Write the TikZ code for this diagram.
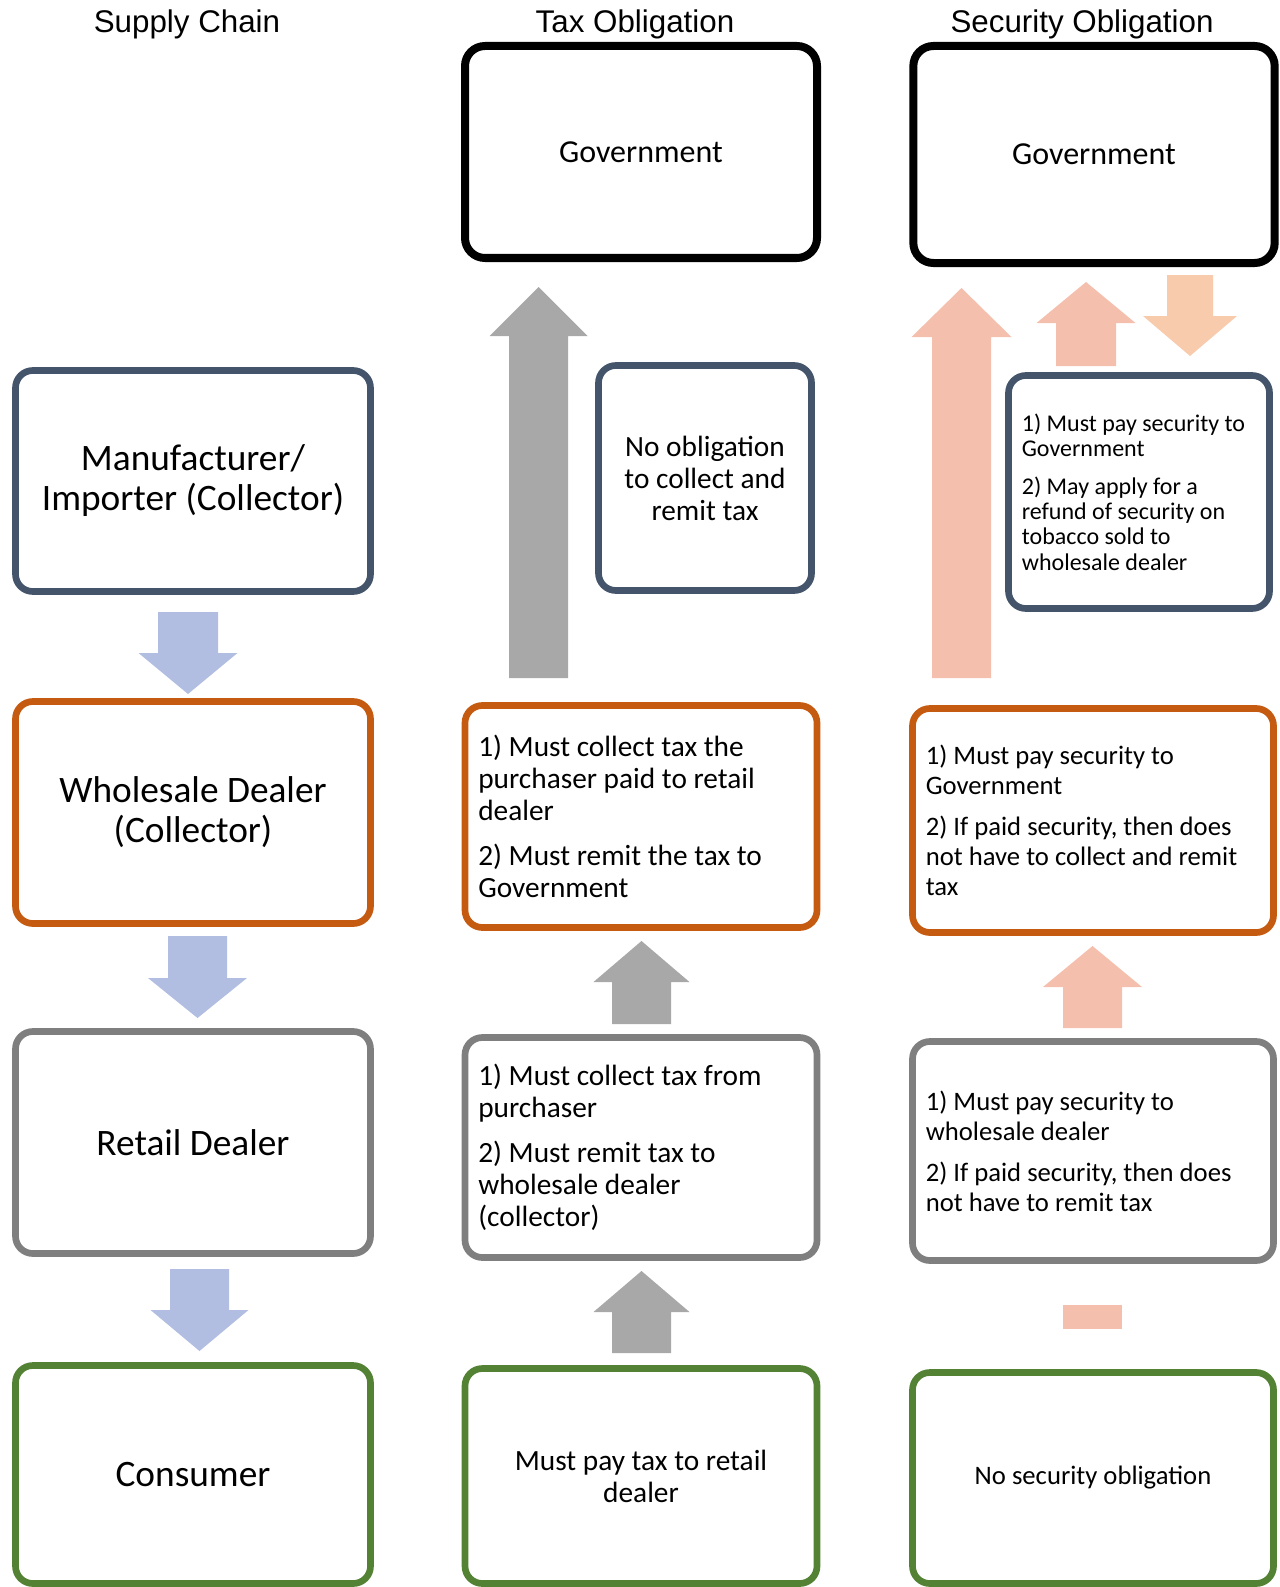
\documentclass[tikz,border=0pt]{standalone}
\usepackage{fontspec}
\setmainfont{Carlito}
\newfontfamily\headfont{Liberation Sans}
\usetikzlibrary{positioning}
\definecolor{slate}{HTML}{44546A}
\definecolor{rust}{HTML}{C55A11}
\definecolor{midgray}{HTML}{7F7F7F}
\definecolor{leaf}{HTML}{548235}
\definecolor{arrowblue}{HTML}{B1BEE1}
\definecolor{arrowgray}{HTML}{A8A8A8}
\definecolor{arrowsalmon}{HTML}{F4C0AD}
\definecolor{arrowpeach}{HTML}{F8CBAD}

\begin{document}
\begin{tikzpicture}[x=0.75pt, y=-0.75pt,
	box/.style={draw, line width=5pt, rounded corners=13pt, fill=white, inner xsep=10pt, inner ysep=0pt},
	govbox/.style={draw=black, line width=6pt, rounded corners=15pt, fill=white, minimum width=264pt, font=\fontsize{24}{26}\selectfont},
	head/.style={font=\headfont\fontsize{23.5}{26}\selectfont, anchor=base},
	chain/.style={box, minimum width=266.25pt, align=center, font=\fontsize{28}{30}\selectfont},
	taxtext/.style={box, text width=244pt, align=flush left, font=\fontsize{22}{24}\selectfont},
	sectext/.style={box, text width=250.75pt, align=flush left, font=\fontsize{20}{22.5}\selectfont}]
	\useasboundingbox (0,0) rectangle (1280,1587);

	\node[head] (hchain) at (187,33) {Supply Chain};
	\node[head] (htax) at (635,33) {Tax Obligation};
	\node[head] (hsec) at (1082,33) {Security Obligation};

	\node[chain, draw=slate, minimum height=165.75pt] (manu) at (193,481) {Manufacturer/\\Importer (Collector)};
	\node[chain, draw=rust, minimum height=166.5pt] (whole) at (193,812.5) {Wholesale Dealer\\(Collector)};
	\node[chain, draw=midgray, minimum height=166.5pt] (retail) at (193,1142.5) {Retail Dealer};
	\node[chain, draw=leaf, minimum height=163.5pt] (consumer) at (193,1474.5) {Consumer};

	\node[govbox, minimum height=159pt] (taxgov) at (641,152) {Government};
	\node[box, draw=slate, minimum width=159.75pt, minimum height=168.75pt, align=center, font=\fontsize{22}{24}\selectfont] (taxmanu) at (705,478) {No obligation\\to collect and\\remit tax};
	\node[taxtext, draw=rust, minimum height=166.5pt] (taxwhole) at (641,816.5) {1) Must collect tax the\\purchaser paid to retail\\dealer\\[10pt]2) Must remit the tax to\\Government};
	\node[taxtext, draw=midgray, minimum height=165pt] (taxretail) at (641,1147.5) {1) Must collect tax from\\purchaser\\[10pt]2) Must remit tax to\\wholesale dealer\\(collector)};
	\node[box, draw=leaf, minimum width=264pt, minimum height=161.25pt, align=center, font=\fontsize{22}{24}\selectfont] (taxconsumer) at (641,1476) {Must pay tax to retail\\dealer};

	\node[govbox, minimum width=271pt, minimum height=162.75pt] (secgov) at (1094,154.5) {Government};
	\node[box, draw=slate, text width=175.75pt, minimum height=174.75pt, align=flush left, font=\fontsize{18}{19}\selectfont] (secmanu) at (1139,492) {1) Must pay security to\\Government\\[9pt]2) May apply for a\\refund of security on\\tobacco sold to\\wholesale dealer};
	\node[sectext, draw=rust, minimum height=168pt] (secwhole) at (1093,820.5) {1) Must pay security to\\Government\\[8.5pt]2) If paid security, then does\\not have to collect and remit\\tax};
	\node[sectext, draw=midgray, minimum height=164.25pt] (secretail) at (1093,1151) {1) Must pay security to\\wholesale dealer\\[8.5pt]2) If paid security, then does\\not have to remit tax};
	\node[box, draw=leaf, minimum width=270.75pt, minimum height=158.25pt, align=center, font=\fontsize{20}{22.5}\selectfont] (secconsumer) at (1093,1478) {No security obligation};

	\foreach \cx/\ya/\yb/\yc/\hs/\hh/\col in {
		188/612/653/694/30/49.5/arrowblue, 197.5/936/978/1018/29.5/49.5/arrowblue, 199.5/1269/1310/1351/29.5/49/arrowblue,
		538.5/678/336/287/29.5/49/arrowgray, 641.5/1024/982/941/29.5/48/arrowgray, 641.5/1353/1312/1271/29.5/48/arrowgray,
		961.5/678/337/288/29.5/50/arrowsalmon, 1086/366/323/282/30/49.5/arrowsalmon, 1190/275/316/356/23/47/arrowpeach,
		1092.5/1028/987/946/29.5/49.5/arrowsalmon}
		\fill[\col] (\cx-\hs,\ya) -- (\cx-\hs,\yb) -- (\cx-\hh,\yb) -- (\cx,\yc) -- (\cx+\hh,\yb) -- (\cx+\hs,\yb) -- (\cx+\hs,\ya) -- cycle;
	\fill[arrowsalmon] (1063,1305) rectangle (1122,1329);
\end{tikzpicture}
\end{document}
